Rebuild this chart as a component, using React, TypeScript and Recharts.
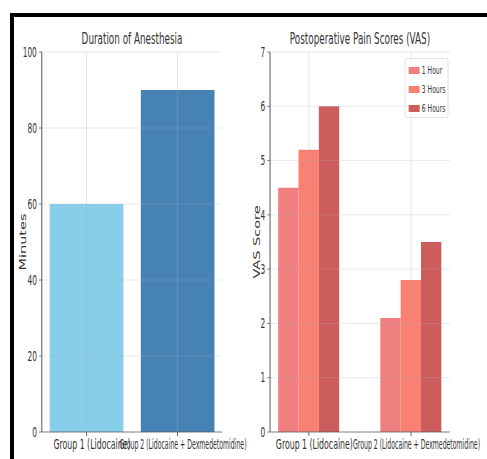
import React from 'react';
import { BarChart, Bar, XAxis, YAxis, Cell, ReferenceLine, Legend } from 'recharts';

// --- data ---
const groups = ['Group 1 (Lidocaine)', 'Group 2 (Lidocaine + Dexmedetomidine)'];
const durationMinutes = [60, 90];
const durationColors = ['#87CEEB', '#4682B4'];
const durationTicks = [0, 20, 40, 60, 80, 100];

const timepoints = ['1 Hour', '3 Hours', '6 Hours'];
const vasGroup1 = [4.5, 5.2, 6.0];
const vasGroup2 = [2.1, 2.8, 3.5];
const vasColors = ['#F08080', '#FA8072', '#CD5C5C'];
const vasTicks = [0, 1, 2, 3, 4, 5, 6, 7];

// the original figure was squeezed horizontally, so draw wide and squeeze
const SQUEEZE = 0.55;
const INNER_W = 886;
const FONT = '"DejaVu Sans", sans-serif';
// rendered widths of the two group labels (unsqueezed px)
const GROUP_LABEL_W = [140, 231];

const durationData = groups.map((g, i) => ({ idx: i, name: g, minutes: durationMinutes[i] }));
const vasData = groups.map((g, i) => {
  const vals = i === 0 ? vasGroup1 : vasGroup2;
  const row: Record<string, any> = { idx: i, name: g };
  timepoints.forEach((t, j) => {
    row[t] = vals[j];
  });
  return row;
});

const tickStyle = { fontSize: 13.5, fill: '#333', fontFamily: FONT };
const gridStroke = '#b0b0b0';

const GroupTick = ({ x, y, payload }: any) => {
  const i = payload.value as number;
  return (
    <text
      x={x + 10}
      y={y}
      dy="0.71em"
      textAnchor="middle"
      fontSize={13.5}
      fill="#333"
      fontFamily={FONT}
      textLength={GROUP_LABEL_W[i]}
      lengthAdjust="spacingAndGlyphs"
    >
      {groups[i]}
    </text>
  );
};

const axisTitle = (text: string, dx: number) => ({ viewBox }: any) => {
  const x = viewBox.x + dx;
  const y = viewBox.y + viewBox.height / 2;
  return (
    <text
      x={x}
      y={y}
      transform={`rotate(-90, ${x}, ${y})`}
      textAnchor="middle"
      dominantBaseline="central"
      fontSize={14.5}
      fill="#333"
      fontFamily={FONT}
    >
      {text}
    </text>
  );
};

const VasLegend = ({ payload }: any) => (
  <div
    style={{
      width: 79,
      height: 60,
      boxSizing: 'border-box',
      border: '1px solid #d9d9d9',
      borderRadius: 3,
      background: 'rgba(255,255,255,0.8)',
      paddingTop: 2,
      fontFamily: FONT,
      fontSize: 11,
      color: '#333',
    }}
  >
    {(payload || []).map((p: any) => (
      <div key={p.value} style={{ height: 19, display: 'flex', alignItems: 'center' }}>
        <span style={{ display: 'inline-block', width: 20, height: 7, marginLeft: 6, marginRight: 4, background: p.color }} />
        <span>{p.value}</span>
      </div>
    ))}
  </div>
);

const titleStyle = (left: number, width: number): React.CSSProperties => ({
  position: 'absolute',
  left,
  width,
  top: 31,
  textAlign: 'center',
  fontSize: 16,
  lineHeight: '16px',
  color: '#333',
  fontFamily: FONT,
  whiteSpace: 'nowrap',
});

export default function App() {
  return (
    <div style={{ position: 'absolute', left: 0, top: 0, width: 487, height: 459, background: '#fff', overflow: 'hidden' }}>
      <div
        style={{
          position: 'absolute',
          left: 0,
          top: 0,
          width: INNER_W,
          height: 459,
          transform: `scaleX(${SQUEEZE})`,
          transformOrigin: '0 0',
        }}
      >
        <div style={titleStyle(76, 328)}>Duration of Anesthesia</div>
        <div style={titleStyle(491, 327)}>Postoperative Pain Scores (VAS)</div>

        <div style={{ position: 'absolute', left: 0, top: 0 }}>
          <BarChart width={470} height={459} data={durationData} margin={{ top: 52, right: 66, bottom: 0, left: 0 }}>
            <XAxis
              type="number"
              dataKey="idx"
              domain={[-0.49, 1.49]}
              ticks={[0, 1]}
              interval={0}
              allowDataOverflow
              height={27}
              tick={<GroupTick />}
              tickSize={4}
              tickMargin={3}
              axisLine={{ stroke: '#555' }}
              tickLine={{ stroke: '#555', strokeWidth: 1.6 }}
            />
            <YAxis
              width={76}
              domain={[0, 100]}
              ticks={durationTicks}
              interval={0}
              tick={tickStyle}
              tickSize={5}
              tickMargin={4}
              axisLine={{ stroke: '#555', strokeWidth: 1.8 }}
              tickLine={{ stroke: '#555' }}
              label={{ content: axisTitle('Minutes', 43) }}
            />
            <Bar dataKey="minutes" barSize={134} isAnimationActive={false}>
              {durationData.map((d, i) => (
                <Cell key={d.name} fill={durationColors[i]} />
              ))}
            </Bar>
            {durationTicks.filter((t) => t > 0).map((t) => (
              <ReferenceLine key={`h${t}`} y={t} stroke={gridStroke} strokeOpacity={0.35} />
            ))}
            {durationData.map((d) => (
              <ReferenceLine key={`v${d.idx}`} x={d.idx} stroke={gridStroke} strokeOpacity={0.35} strokeWidth={1.6} />
            ))}
          </BarChart>
        </div>

        <div style={{ position: 'absolute', left: 440, top: 0 }}>
          <BarChart width={446} height={459} data={vasData} barGap={0} margin={{ top: 52, right: 68, bottom: 0, left: 0 }}>
            <XAxis
              type="number"
              dataKey="idx"
              domain={[-0.38, 1.38]}
              ticks={[0, 1]}
              interval={0}
              allowDataOverflow
              height={27}
              tick={<GroupTick />}
              tickSize={4}
              tickMargin={3}
              axisLine={{ stroke: '#555' }}
              tickLine={{ stroke: '#555', strokeWidth: 1.6 }}
            />
            <YAxis
              width={51}
              domain={[0, 7]}
              ticks={vasTicks}
              interval={0}
              tick={tickStyle}
              tickSize={5}
              tickMargin={4}
              axisLine={{ stroke: '#555', strokeWidth: 1.8 }}
              tickLine={{ stroke: '#555' }}
              label={{ content: axisTitle('VAS Score', 27) }}
            />
            {timepoints.map((t, j) => (
              <Bar key={t} dataKey={t} name={t} fill={vasColors[j]} barSize={37} isAnimationActive={false} />
            ))}
            {vasTicks.filter((t) => t > 0).map((t) => (
              <ReferenceLine key={`h${t}`} y={t} stroke={gridStroke} strokeOpacity={0.35} />
            ))}
            {vasData.map((d) => (
              <ReferenceLine key={`v${d.idx}`} x={d.idx} stroke={gridStroke} strokeOpacity={0.35} strokeWidth={1.6} />
            ))}
            <Legend
              layout="horizontal"
              verticalAlign="middle"
              align="center"
              content={<VasLegend />}
              wrapperStyle={{ left: 296, top: 58, width: 79, height: 60 }}
            />
          </BarChart>
        </div>
      </div>

      {/* black frame along the top and left edges */}
      <div style={{ position: 'absolute', left: 10, top: 13, width: 477, height: 4, background: '#000' }} />
      <div style={{ position: 'absolute', left: 10, top: 13, width: 4, height: 446, background: '#000' }} />
    </div>
  );
}
